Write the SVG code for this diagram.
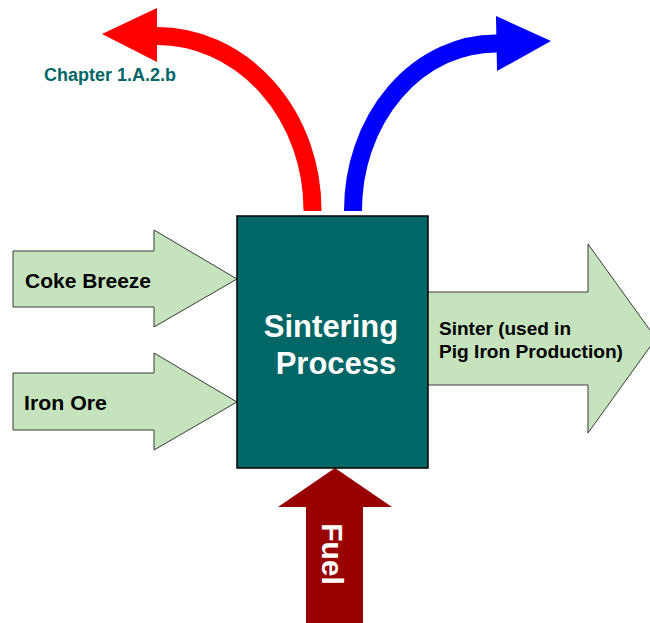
<svg xmlns="http://www.w3.org/2000/svg" width="650" height="623" viewBox="0 0 650 623">
<style>
.in{fill:#C5E3BD;stroke:#3a3a3a;stroke-width:1}
.lbl{font-family:"Liberation Sans",Arial,sans-serif;font-weight:bold;fill:#000}
.big{font-family:"Liberation Sans",Arial,sans-serif;font-weight:bold;font-size:31px;fill:#fff}
</style>
<rect width="650" height="623" fill="#fff"/>
<g id="connectors">
<g id="red-arrow">
<path d="M312.5,211 A155.5,174 0 0 0 156,36" fill="none" stroke="#FF0000" stroke-width="18"/>
<polygon points="157,8 102,34 157,62" fill="#FF0000"/>
</g>
<g id="blue-arrow">
<path d="M353,211 A143,167 0 0 1 497,43.5" fill="none" stroke="#0000FF" stroke-width="18"/>
<polygon points="496,16 551,41 497,71" fill="#0000FF"/>
</g>
</g>
<text id="chapter" x="44" y="81" font-family="Liberation Sans,Arial,sans-serif" font-weight="bold" font-size="17.5" fill="#006666" textLength="132" lengthAdjust="spacingAndGlyphs">Chapter 1.A.2.b</text>
<g id="coke-breeze">
<polygon class="in" points="13,251 154,251 154,230 237,279 154,327 154,307 13,307"/>
<text class="lbl" x="25" y="288" font-size="19.5" textLength="126" lengthAdjust="spacingAndGlyphs">Coke Breeze</text>
</g>
<g id="iron-ore">
<polygon class="in" points="13,373 154,373 154,353 237,402 154,450 154,430 13,430"/>
<text class="lbl" x="24" y="410" font-size="19.5" textLength="83" lengthAdjust="spacingAndGlyphs">Iron Ore</text>
</g>
<g id="sinter">
<polygon class="in" points="426,292 588,292 588,244 656,338.5 588,433 588,385 426,385"/>
<text class="lbl" x="439" y="335" font-size="18.5" textLength="132" lengthAdjust="spacingAndGlyphs">Sinter (used in</text>
<text class="lbl" x="439" y="358" font-size="18.5" textLength="184" lengthAdjust="spacingAndGlyphs">Pig Iron Production)</text>
</g>
<g id="fuel">
<polygon points="335,468 392,507 363,507 363,624 306,624 306,507 278,507" fill="#990000"/>
<text transform="translate(322,554) rotate(90)" text-anchor="middle" font-family="Liberation Sans,Arial,sans-serif" font-weight="bold" font-size="30" fill="#fff">Fuel</text>
</g>
<g id="sintering-process">
<rect x="237" y="216" width="191" height="252" fill="#006666" stroke="#000" stroke-width="1.5"/>
<text class="big" x="331" y="337" text-anchor="middle">Sintering</text>
<text class="big" x="336" y="374" text-anchor="middle">Process</text>
</g>
</svg>
